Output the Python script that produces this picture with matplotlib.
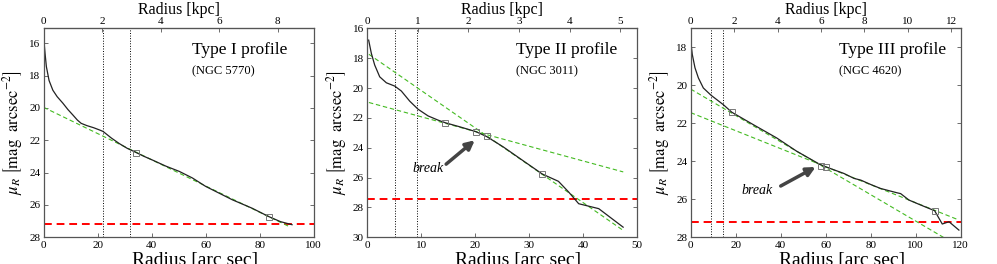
import matplotlib
matplotlib.use('Agg')
import matplotlib.pyplot as plt

plt.rcParams['font.family'] = ['Liberation Serif', 'DejaVu Serif']
plt.rcParams['mathtext.fontset'] = 'stix'
plt.rcParams['xtick.direction'] = 'in'
plt.rcParams['ytick.direction'] = 'in'

# ---- Type I (NGC 5770) ----
r1 = [0.1, 0.5, 1, 2, 3.4, 5, 7.1, 9, 10.8, 12.5, 13.9, 16, 18.5, 20.7, 22, 25, 28, 31, 34.2, 37,
      40.3, 45.3, 50.2, 55.1, 60, 65, 69.9, 77.2, 83.4, 87.7, 92]
mu1 = [15.84, 16.6, 17.44, 18.3, 18.9, 19.3, 19.7, 20.1, 20.43, 20.75, 20.95, 21.09, 21.22, 21.36, 21.45,
       21.85, 22.2, 22.5, 22.75, 22.98, 23.22, 23.6, 23.92, 24.33, 24.85, 25.27, 25.68, 26.2, 26.72, 27.03, 27.22]
fit1_r = [[0, 91]]
fit1_mu = [[19.96, 27.34]]
box1_r = [34.2, 83.4]
box1_mu = [22.78, 26.74]
dots1 = [22.0, 31.9]
sky1 = 27.17
kpc1 = 0.0923  # kpc per arcsec

# ---- Type II (NGC 3011) ----
r2 = [0.25, 0.75, 1.37, 2.3, 3.53, 5.08, 6.3, 7.86, 9.4, 11.26, 13.1, 14.47, 17.14, 20.1, 22.1, 25.2,
      28.3, 32.4, 35.4, 37.3, 39.15, 42.86, 47.38]
mu2 = [16.79, 17.68, 18.46, 19.25, 19.65, 19.87, 20.2, 20.88, 21.42, 21.87, 22.15, 22.33, 22.6, 22.92,
       23.25, 23.95, 24.73, 25.76, 26.25, 26.97, 27.75, 28.08, 29.32]
fit2_r = [[0.3, 47.4], [0.3, 47.4]]
fit2_mu = [[17.74, 29.54], [20.97, 25.62]]
box2_r = [14.47, 20.1, 22.08, 32.36]
box2_mu = [22.33, 22.94, 23.23, 25.76]
dots2 = [5.08, 9.27]
sky2 = 27.46
kpc2 = 0.1068

# ---- Type III (NGC 4620) ----
r3 = [0, 0.7, 1.9, 3.4, 5.6, 9.0, 14.5, 18.3, 27.8, 38.2, 47.1, 57.5, 60.2, 68.1, 72.6, 75.6, 80, 84.4,
      91.8, 93.3, 97, 102.2, 108.4, 111.8, 114.8, 119.2]
mu3 = [17.68, 18.38, 19.08, 19.61, 20.14, 20.52, 21.02, 21.42, 22.07, 22.77, 23.47, 24.17, 24.3, 24.64,
       24.9, 24.99, 25.22, 25.43, 25.66, 25.7, 26.04, 26.3, 26.6, 27.3, 27.18, 27.62]
fit3_r = [[0, 112.3], [0, 119.2]]
fit3_mu = [[20.2, 28.0], [21.44, 27.09]]
box3_r = [18.4, 58.1, 60.3, 108.4]
box3_mu = [21.43, 24.24, 24.3, 26.6]
dots3 = [9.0, 14.5]
sky3 = 27.18
kpc3 = 0.1036

titles = ['Type I profile', 'Type II profile', 'Type III profile']
names = ['(NGC 5770)', '(NGC 3011)', '(NGC 4620)']
xlims = [(0, 100), (0, 50), (0, 120)]
ylims = [(28, 15.07), (30, 16), (28, 17)]
xticks = [range(0, 101, 20), range(0, 51, 10), range(0, 121, 20)]
yticks = [range(16, 29, 2), range(16, 31, 2), range(18, 29, 2)]
kticks = [range(0, 9, 2), range(0, 6, 1), range(0, 13, 2)]

fig = plt.figure(figsize=(9.97, 2.64), dpi=100)
lefts = [0.0438, 0.3684, 0.6928]
frame = '#555555'


def panel(i, r, mu, fr, fm, br, bm, dots, sky, kpc):
    ax = fig.add_axes([lefts[i], 0.1011, 0.2708, 0.7917])
    for d in dots:
        ax.axvline(d, color='k', ls=':', lw=0.7)
    ax.axhline(sky, color='red', ls=(0, (4, 2.5)), lw=1.4)
    for a, b in zip(fr, fm):
        ax.plot(a, b, color='#44bb22', ls=(0, (4, 2.5)), lw=0.8)
    ax.plot(r, mu, color='#222222', lw=0.9)
    ax.plot(br, bm, ls='none', marker='s', ms=4, mfc='none', mec='#777777', mew=0.7)

    ax.set_xlim(*xlims[i])
    ax.set_ylim(*ylims[i])
    ax.set_xticks(list(xticks[i]))
    ax.set_yticks(list(yticks[i]))
    ax.tick_params(labelsize=8, length=3, width=0.6, color=frame, pad=2.5, right=True)
    for s in ax.spines.values():
        s.set_color(frame)
        s.set_linewidth(0.9)

    sec = ax.secondary_xaxis('top', functions=(lambda x: x * kpc, lambda x: x / kpc))
    sec.set_xticks(list(kticks[i]))
    sec.tick_params(labelsize=8, length=3, width=0.6, color=frame, pad=1.5)
    sec.spines['top'].set_color(frame)
    sec.set_xlabel('Radius [kpc]', fontsize=11.5, labelpad=2)

    ax.set_xlabel('Radius [arc sec]', fontsize=14)
    ax.xaxis.set_label_coords(0.56, -0.07)
    ax.set_ylabel(r'$\mu_R\ \left[\mathrm{mag\ \ arcsec}^{-2}\right]$', fontsize=12)
    ax.yaxis.set_label_coords(-0.068, 0.5)

    ax.text(0.55, 0.896, titles[i], transform=ax.transAxes, fontsize=12.5, va='center')
    ax.text(0.55, 0.792, names[i], transform=ax.transAxes, fontsize=9, va='center')
    return ax


ax1 = panel(0, r1, mu1, fit1_r, fit1_mu, box1_r, box1_mu, dots1, sky1, kpc1)
ax2 = panel(1, r2, mu2, fit2_r, fit2_mu, box2_r, box2_mu, dots2, sky2, kpc2)
ax3 = panel(2, r3, mu3, fit3_r, fit3_mu, box3_r, box3_mu, dots3, sky3, kpc3)

arrow = dict(arrowstyle='-|>', lw=2.5, color='#444444', mutation_scale=13, shrinkA=0, shrinkB=0)
ax2.annotate('', xy=(19.9, 23.5), xytext=(14.6, 25.1), arrowprops=arrow)
ax2.text(11.3, 25.4, 'break', style='italic', fontsize=10, ha='center', va='center')
ax3.annotate('', xy=(55.5, 24.3), xytext=(40, 25.3), arrowprops=arrow)
ax3.text(29.6, 25.52, 'break', style='italic', fontsize=10, ha='center', va='center')

plt.savefig('out.png', dpi=100)
